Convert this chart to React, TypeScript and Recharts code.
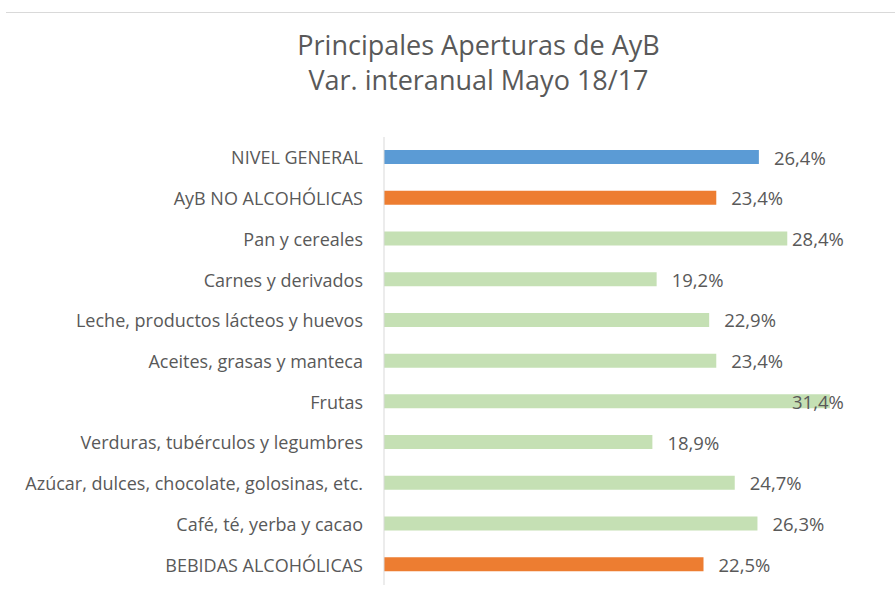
import React from "react";
import { BarChart, Bar, XAxis, YAxis, Cell, LabelList } from "recharts";

const categories = [
  "NIVEL GENERAL",
  "AyB NO ALCOHÓLICAS",
  "Pan y cereales",
  "Carnes y derivados",
  "Leche, productos lácteos y huevos",
  "Aceites, grasas y manteca",
  "Frutas",
  "Verduras, tubérculos y legumbres",
  "Azúcar, dulces, chocolate, golosinas, etc.",
  "Café, té, yerba y cacao",
  "BEBIDAS ALCOHÓLICAS",
];

const values = [26.4, 23.4, 28.4, 19.2, 22.9, 23.4, 31.4, 18.9, 24.7, 26.3, 22.5];

// kind of each row: general / group / item
const kinds = ["general", "group", "item", "item", "item", "item", "item", "item", "item", "item", "group"];

const COLORS: Record<string, string> = {
  general: "#5B9BD5",
  group: "#ED7D31",
  item: "#C5E0B4",
};

const FONT = "'Open Sans', sans-serif";
const TEXT = "#595959";

const chartData = categories.map((name, i) => ({
  name,
  value: values[i],
  kind: kinds[i],
}));

const fmt = (v: number) => `${v.toFixed(1).replace(".", ",")}%`;

const CategoryTick = (props: any) => {
  const { x, y, payload } = props;
  return (
    <text
      x={x}
      y={y}
      textAnchor="end"
      dominantBaseline="central"
      fill={TEXT}
      fontSize={18}
      fontFamily={FONT}
    >
      {payload.value}
    </text>
  );
};

const ValueLabel = (props: any) => {
  const { x, y, width, height, value } = props;
  // keep the label inside the chart area
  const lx = Math.min(x + width + 15, 792);
  return (
    <text
      x={lx}
      y={y + height / 2}
      dominantBaseline="central"
      fill={TEXT}
      fontSize={18.5}
      fontFamily={FONT}
    >
      {fmt(value)}
    </text>
  );
};

export default function App() {
  return (
    <div
      style={{
        position: "absolute",
        left: 0,
        top: 0,
        width: 895,
        height: 600,
        background: "#fff",
        fontFamily: FONT,
      }}
    >
      <div
        style={{
          position: "absolute",
          left: 6,
          top: 12,
          width: 889,
          borderTop: "1px solid #D9D9D9",
        }}
      />
      <div
        style={{
          position: "absolute",
          left: 0,
          top: 27,
          width: 957,
          textAlign: "center",
          color: TEXT,
          fontSize: 27,
          lineHeight: "35px",
        }}
      >
        Principales Aperturas de AyB
        <br />
        Var. interanual Mayo 18/17
      </div>
      <BarChart
        width={895}
        height={600}
        data={chartData}
        layout="vertical"
        margin={{ top: 137, right: 14, bottom: 15, left: 0 }}
        style={{ position: "absolute", left: 0, top: 0 }}
      >
        <XAxis type="number" domain={[0, 35]} hide />
        <YAxis
          type="category"
          dataKey="name"
          width={384}
          tickLine={false}
          tickMargin={15}
          axisLine={{ stroke: "#D9D9D9" }}
          tick={<CategoryTick />}
          interval={0}
        />
        <Bar dataKey="value" barSize={14} isAnimationActive={false}>
          {chartData.map((d, i) => (
            <Cell key={`cell-${i}`} fill={COLORS[d.kind]} />
          ))}
          <LabelList dataKey="value" content={<ValueLabel />} />
        </Bar>
      </BarChart>
    </div>
  );
}
